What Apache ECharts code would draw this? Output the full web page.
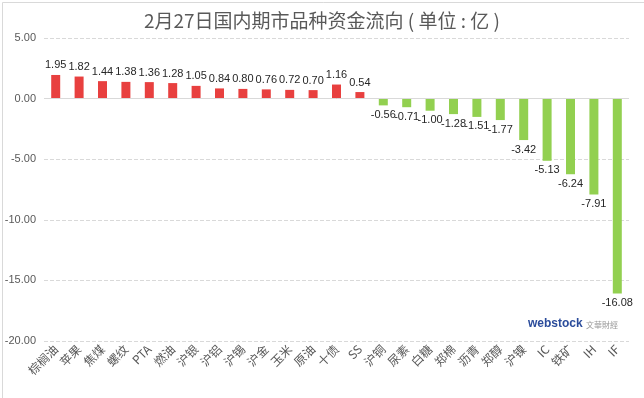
<!DOCTYPE html>
<html>
<head>
<meta charset="utf-8">
<script src="https://cdn.jsdelivr.net/npm/echarts@6/dist/echarts.min.js"></script>
<style>
  html, body { margin: 0; padding: 0; background: #fff; }
  #chart { width: 644px; height: 398px; }
</style>
</head>
<body>
<div id="chart"></div>
<script>
const categories = ['棕榈油', '苹果', '焦煤', '螺纹', 'PTA', '燃油', '沪银', '沪铝', '沪锡', '沪金', '玉米', '原油', '十债', 'SS',
  '沪铜', '尿素', '白糖', '郑棉', '沥青', '郑醇', '沪镍', 'IC', '铁矿', 'IH', 'IF'];
const flows = [1.95, 1.82, 1.44, 1.38, 1.36, 1.28, 1.05, 0.84, 0.80, 0.76, 0.72, 0.70, 1.16, 0.54,
  -0.56, -0.71, -1.00, -1.28, -1.51, -1.77, -3.42, -5.13, -6.24, -7.91, -16.08];
const yTicks = { min: -20, max: 5, interval: 5 };

const chart = echarts.init(document.getElementById('chart'));

const barData = flows.map(v => ({
  value: v,
  itemStyle: { color: v >= 0 ? '#E8403F' : '#92D050' },
  label: { position: v >= 0 ? 'top' : 'bottom' }
}));

chart.setOption({
  backgroundColor: '#fff',
  animation: false,
  title: {
    text: '2月27日国内期市品种资金流向 ( 单位 : 亿 )',
    left: 'center',
    top: 6,
    textStyle: { fontSize: 19, fontWeight: 'normal', color: '#595959', fontFamily: 'Noto Sans CJK SC' }
  },
  grid: { left: 44, right: 15, top: 38, bottom: 57 },
  xAxis: {
    type: 'category',
    data: categories,
    axisLine: { show: false },
    axisTick: { show: false },
    axisLabel: {
      interval: 0,
      rotate: 45,
      fontSize: 12,
      color: '#595959',
      margin: 6,
      fontFamily: 'Noto Sans CJK SC'
    }
  },
  yAxis: {
    type: 'value',
    min: yTicks.min,
    max: yTicks.max,
    interval: yTicks.interval,
    axisLine: { show: false },
    axisTick: { show: false },
    axisLabel: {
      formatter: v => v.toFixed(2),
      fontSize: 11,
      color: '#595959',
      margin: 8
    },
    splitLine: { lineStyle: { color: '#D9D9D9', type: 'dashed' } }
  },
  series: [{
    type: 'bar',
    data: barData,
    barWidth: 9,
    label: {
      show: true,
      fontSize: 11,
      color: '#262626',
      distance: 4,
      formatter: p => p.value.toFixed(2)
    },
    markLine: {
      silent: true,
      symbol: 'none',
      label: { show: false },
      lineStyle: { color: '#D9D9D9', type: 'solid', width: 1 },
      data: [{ yAxis: 0 }]
    }
  }],
  graphic: [
    {
      type: 'rect',
      left: 0, top: 0,
      shape: { width: 643, height: 397 },
      style: { fill: 'none', stroke: '#D9D9D9', lineWidth: 1 }
    },
    {
      type: 'text',
      left: 528, top: 318,
      style: { text: 'webstock', fontSize: 12, fontWeight: 'bold', fill: '#2B4C9B', fontFamily: 'Arial' }
    },
    {
      type: 'text',
      left: 586, top: 321,
      style: { text: '文華財經', fontSize: 8, fill: '#999', fontFamily: 'Noto Sans CJK TC' }
    }
  ]
});
</script>
</body>
</html>
